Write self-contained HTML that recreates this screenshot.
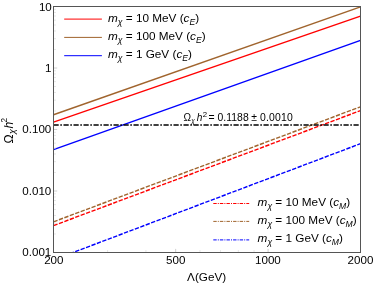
<!DOCTYPE html>
<html><head><meta charset="utf-8">
<style>
html,body{margin:0;padding:0;background:#fff;}
svg{display:block;filter:opacity(1);}
text{font-family:"Liberation Sans",sans-serif;fill:#000;}
</style></head>
<body>
<svg width="374" height="286" viewBox="0 0 374 286" xmlns="http://www.w3.org/2000/svg">
<rect width="374" height="286" fill="#fff"/>
<defs><clipPath id="c"><rect x="53.5" y="6.5" width="307" height="246"/></clipPath></defs>
<g clip-path="url(#c)" fill="none" stroke-width="1.4">
<line x1="53.5" y1="114.75" x2="360.5" y2="6.8" stroke="#a0642d"/>
<line x1="53.5" y1="122.1" x2="360.5" y2="16.2" stroke="#ff0000"/>
<line x1="53.5" y1="149.6" x2="360.5" y2="40.3" stroke="#0000ff"/>
<line x1="53.5" y1="221.8" x2="360.5" y2="106.8" stroke="#a0642d" stroke-dasharray="4.3,1.5"/>
<line x1="53.5" y1="225.6" x2="360.5" y2="110.6" stroke="#ff0000" stroke-dasharray="4.3,1.5"/>
<line x1="53.5" y1="259.9" x2="360.5" y2="143.7" stroke="#0000ff" stroke-dasharray="4.3,1.5"/>
<line x1="53.5" y1="125" x2="360.5" y2="125" stroke="#000" stroke-dasharray="5.2,1.6,1.6,1.6"/>
</g>
<g stroke="#c4c4c4" stroke-width="0.8"><line x1="54" x2="57.2" y1="68.00" y2="68.00"/><line x1="54" x2="57.2" y1="129.50" y2="129.50"/><line x1="54" x2="57.2" y1="191.00" y2="191.00"/><line x1="175.67" x2="175.67" y1="248.9" y2="252"/><line x1="268.08" x2="268.08" y1="248.9" y2="252"/></g>
<g stroke="#dcdcdc" stroke-width="0.7"><line x1="54" x2="56" y1="49.49" y2="49.49"/><line x1="54" x2="56" y1="38.66" y2="38.66"/><line x1="54" x2="56" y1="30.97" y2="30.97"/><line x1="54" x2="56" y1="25.01" y2="25.01"/><line x1="54" x2="56" y1="20.14" y2="20.14"/><line x1="54" x2="56" y1="16.03" y2="16.03"/><line x1="54" x2="56" y1="12.46" y2="12.46"/><line x1="54" x2="56" y1="9.31" y2="9.31"/><line x1="54" x2="56" y1="110.99" y2="110.99"/><line x1="54" x2="56" y1="100.16" y2="100.16"/><line x1="54" x2="56" y1="92.47" y2="92.47"/><line x1="54" x2="56" y1="86.51" y2="86.51"/><line x1="54" x2="56" y1="81.64" y2="81.64"/><line x1="54" x2="56" y1="77.53" y2="77.53"/><line x1="54" x2="56" y1="73.96" y2="73.96"/><line x1="54" x2="56" y1="70.81" y2="70.81"/><line x1="54" x2="56" y1="172.49" y2="172.49"/><line x1="54" x2="56" y1="161.66" y2="161.66"/><line x1="54" x2="56" y1="153.97" y2="153.97"/><line x1="54" x2="56" y1="148.01" y2="148.01"/><line x1="54" x2="56" y1="143.14" y2="143.14"/><line x1="54" x2="56" y1="139.03" y2="139.03"/><line x1="54" x2="56" y1="135.46" y2="135.46"/><line x1="54" x2="56" y1="132.31" y2="132.31"/><line x1="54" x2="56" y1="233.99" y2="233.99"/><line x1="54" x2="56" y1="223.16" y2="223.16"/><line x1="54" x2="56" y1="215.47" y2="215.47"/><line x1="54" x2="56" y1="209.51" y2="209.51"/><line x1="54" x2="56" y1="204.64" y2="204.64"/><line x1="54" x2="56" y1="200.53" y2="200.53"/><line x1="54" x2="56" y1="196.96" y2="196.96"/><line x1="54" x2="56" y1="193.81" y2="193.81"/><line x1="107.56" x2="107.56" y1="250" y2="252"/><line x1="145.92" x2="145.92" y1="250" y2="252"/><line x1="199.98" x2="199.98" y1="250" y2="252"/><line x1="220.53" x2="220.53" y1="250" y2="252"/><line x1="238.33" x2="238.33" y1="250" y2="252"/><line x1="254.04" x2="254.04" y1="250" y2="252"/></g>
<rect x="53.5" y="6.5" width="307" height="246" fill="none" stroke="#555" stroke-width="1"/>
<g font-size="11.6" text-anchor="end">
<text x="51.8" y="10.6">10</text>
<text x="51.5" y="71.7">1</text>
<text x="51.3" y="133.4">0.100</text>
<text x="51.3" y="194.7">0.010</text>
<text x="51.3" y="256.1">0.001</text>
</g>
<g font-size="11.6" text-anchor="middle">
<text x="53.8" y="263.9">200</text>
<text x="175.7" y="263.9">500</text>
<text x="267.9" y="263.9">1000</text>
<text x="360.5" y="263.9">2000</text>
<text x="206.6" y="280.7" font-size="11.7">Λ(GeV)</text>
</g>
<g stroke-width="1" fill="none">
<line x1="64.2" y1="19.1" x2="101.9" y2="19.1" stroke="#ff0000"/>
<line x1="64.2" y1="37.4" x2="101.9" y2="37.4" stroke="#a0642d"/>
<line x1="64.2" y1="55.7" x2="101.9" y2="55.7" stroke="#0000ff"/>
<line x1="213.3" y1="203.5" x2="249.2" y2="203.5" stroke="#ff0000" stroke-dasharray="3.4,1.1,1,1.1"/>
<line x1="213.3" y1="221.4" x2="249.2" y2="221.4" stroke="#a0642d" stroke-dasharray="3.4,1.1,1,1.1"/>
<line x1="213.3" y1="239.9" x2="249.2" y2="239.9" stroke="#0000ff" stroke-dasharray="3.4,1.1,1,1.1"/>
</g>
<g font-size="11.75">
<text x="108" y="22.4"><tspan font-style="italic">m</tspan><tspan font-style="italic" font-size="8.6" dy="3">χ</tspan><tspan dy="-3"> = 10 MeV (</tspan><tspan font-style="italic">c</tspan><tspan font-style="italic" font-size="8.6" dy="2.5">E</tspan><tspan dy="-2.5">)</tspan></text>
<text x="108" y="40.4"><tspan font-style="italic">m</tspan><tspan font-style="italic" font-size="8.6" dy="3">χ</tspan><tspan dy="-3"> = 100 MeV (</tspan><tspan font-style="italic">c</tspan><tspan font-style="italic" font-size="8.6" dy="2.5">E</tspan><tspan dy="-2.5">)</tspan></text>
<text x="108" y="58.4"><tspan font-style="italic">m</tspan><tspan font-style="italic" font-size="8.6" dy="3">χ</tspan><tspan dy="-3"> = 1 GeV (</tspan><tspan font-style="italic">c</tspan><tspan font-style="italic" font-size="8.6" dy="2.5">E</tspan><tspan dy="-2.5">)</tspan></text>
<text x="257.6" y="206.4" font-size="11.75"><tspan font-style="italic">m</tspan><tspan font-style="italic" font-size="8.6" dy="3">χ</tspan><tspan dy="-3"> = 10 MeV (</tspan><tspan font-style="italic">c</tspan><tspan font-style="italic" font-size="8.6" dy="2.5">M</tspan><tspan dy="-2.5">)</tspan></text>
<text x="257.6" y="224.4" font-size="11.75"><tspan font-style="italic">m</tspan><tspan font-style="italic" font-size="8.6" dy="3">χ</tspan><tspan dy="-3"> = 100 MeV (</tspan><tspan font-style="italic">c</tspan><tspan font-style="italic" font-size="8.6" dy="2.5">M</tspan><tspan dy="-2.5">)</tspan></text>
<text x="257.6" y="242.4" font-size="11.75"><tspan font-style="italic">m</tspan><tspan font-style="italic" font-size="8.6" dy="3">χ</tspan><tspan dy="-3"> = 1 GeV (</tspan><tspan font-style="italic">c</tspan><tspan font-style="italic" font-size="8.6" dy="2.5">M</tspan><tspan dy="-2.5">)</tspan></text>
</g>
<g font-size="10.4"><text x="183.5" y="121.3" font-size="10.1">Ω<tspan font-style="italic" font-size="6.4" dy="1.6" dx="0.3">χ</tspan><tspan font-style="italic" dy="-1.6" dx="1.9">h</tspan><tspan font-size="7.8" dy="-4.6" dx="0.3">2</tspan></text>
<text x="208.4" y="121.3">=</text><text x="217.4" y="121.3" textLength="31.3">0.1188</text><text x="251.2" y="121.3">±</text><text x="260" y="121.3" textLength="32.7">0.0010</text></g>
<g transform="translate(13.3,143.6) rotate(-90)" font-size="12.2"><text x="0" y="0">Ω</text><text x="9.5" y="1.9" font-size="9" font-style="italic">χ</text><text x="15.0" y="0" font-style="italic">h</text><text x="21.0" y="-6.6" font-size="8.2">2</text></g>
</svg>
</body></html>
